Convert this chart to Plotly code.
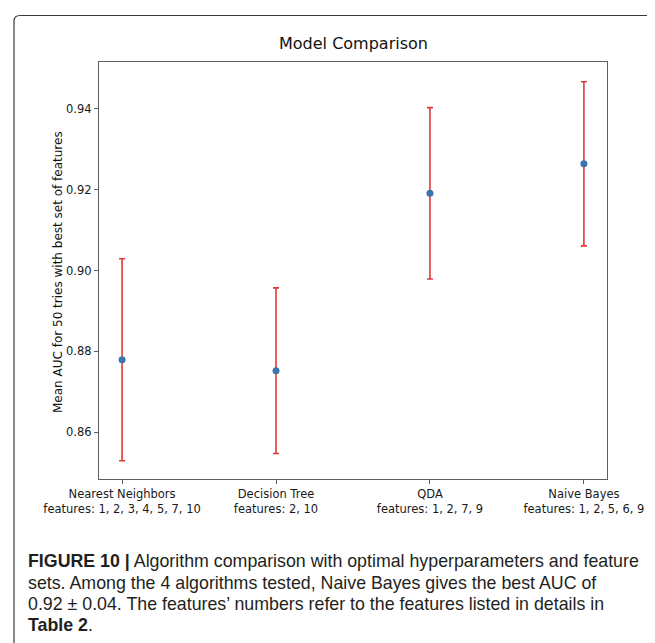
import plotly.graph_objects as go

# ---- data ----
models = ["Nearest Neighbors", "Decision Tree", "QDA", "Naive Bayes"]
feature_sets = ["1, 2, 3, 4, 5, 7, 10", "2, 10", "1, 2, 7, 9", "1, 2, 5, 6, 9"]
mean_auc = [0.8779, 0.8752, 0.9191, 0.9264]
err_auc = [0.0250, 0.0205, 0.0212, 0.0203]
y_ticks = [0.86, 0.88, 0.90, 0.92, 0.94]
title_text = "Model Comparison"
y_label = "Mean AUC for 50 tries with best set of features"
caption_lines = [
    "<b>FIGURE 10 |</b> Algorithm comparison with optimal hyperparameters and feature",
    "sets. Among the 4 algorithms tested, Naive Bayes gives the best AUC of",
    "0.92 \u00b1 0.04. The features\u2019 numbers refer to the features listed in details in",
    "<b>Table 2</b>.",
]

W, H = 655, 643
L, R, T, B = 91, 599, 54, 471
pw, ph = R - L, B - T


def px(x):
    return (x - L) / pw


def py(y):
    return (B - y) / ph


xs = list(range(len(models)))
tick_text = [f"{m}<br>features: {f}" for m, f in zip(models, feature_sets)]

fig = go.Figure()
fig.add_trace(go.Scatter(
    x=xs, y=mean_auc, mode="markers",
    marker=dict(color="#3b75af", size=7),
    error_y=dict(type="data", array=err_auc, visible=True,
                 color="#e0393b", thickness=1.6, width=3),
    showlegend=False,
))

font_main = "DejaVu Sans"

fig.update_layout(
    width=W, height=H,
    margin=dict(l=L, r=W - R, t=T, b=H - B, pad=0),
    paper_bgcolor="white", plot_bgcolor="white",
    showlegend=False,
)

fig.update_xaxes(
    range=[-0.15, 3.15], tickmode="array", tickvals=xs, ticktext=tick_text,
    showgrid=False, zeroline=False, showline=True, linecolor="#5e5e5e",
    linewidth=1.2, mirror=True, ticks="outside", ticklen=4, tickcolor="#5e5e5e",
    tickfont=dict(family=font_main, size=11.5, color="#1a1a1a"),
)
fig.update_yaxes(
    range=[0.8484, 0.9516], tickmode="array", tickvals=y_ticks,
    ticktext=[f"{v:.2f}" for v in y_ticks],
    showgrid=False, zeroline=False, showline=True, linecolor="#5e5e5e",
    linewidth=1.2, mirror=True, ticks="outside", ticklen=4, tickcolor="#5e5e5e",
    tickfont=dict(family=font_main, size=11.5, color="#1a1a1a"),
)

annotations = [
    dict(text=title_text, xref="paper", yref="paper", x=px(345), y=py(35),
         xanchor="center", yanchor="middle", showarrow=False,
         font=dict(family=font_main, size=16, color="#111")),
    dict(text=y_label, xref="paper", yref="paper", x=px(50), y=py(264),
         xanchor="center", yanchor="middle", textangle=-90, showarrow=False,
         font=dict(family=font_main, size=12, color="#111")),
]
cap_y = [553, 575, 596, 617]
for line, yc in zip(caption_lines, cap_y):
    annotations.append(dict(
        text=line, xref="paper", yref="paper", x=px(18), y=py(yc),
        xanchor="left", yanchor="middle", showarrow=False, align="left",
        font=dict(family="Liberation Sans", size=17.8, color="#231f20"),
    ))
fig.update_layout(annotations=annotations)

# outer frame (rounded top-left corner)
x0, y0 = px(6), py(7.5)
x1, y1 = px(662), py(660)
rx, ry = 6 / pw, 6 / ph
path = (f"M {x0},{y1} L {x0},{y0 - ry} Q {x0},{y0} {x0 + rx},{y0} "
        f"L {x1},{y0} L {x1},{y1} Z")
fig.add_shape(type="path", path=path, xref="paper", yref="paper",
              line=dict(color="#3a3a3a", width=1.2), layer="below")

fig.write_html("out.html")
